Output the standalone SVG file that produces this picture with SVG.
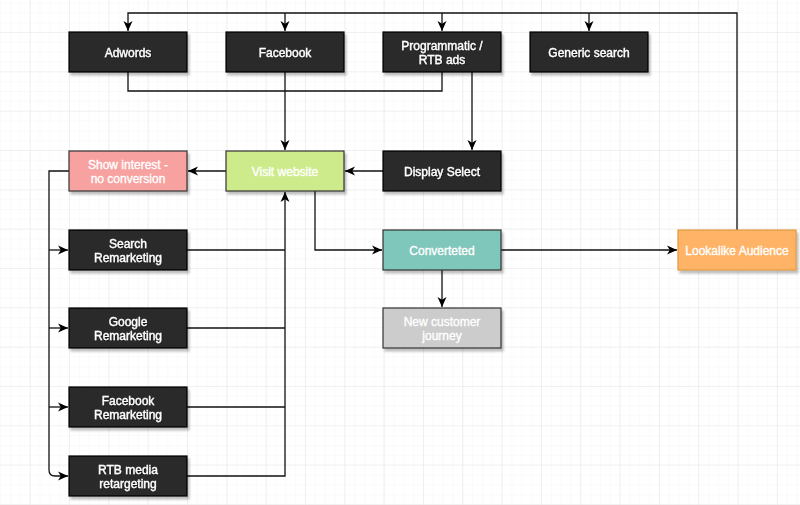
<svg xmlns="http://www.w3.org/2000/svg" width="800" height="505" viewBox="0 0 800 505">
<defs>
<pattern id="minor" patternUnits="userSpaceOnUse" x="29.67" y="32" width="9.833" height="9.833">
<path d="M0,0 H9.833 M0,0 V9.833" fill="none" stroke="#f6f6f6" stroke-width="1"/>
</pattern>
<pattern id="major" patternUnits="userSpaceOnUse" x="29.67" y="32" width="39.33" height="39.33">
<path d="M0,0 H39.33 M0,0 V39.33" fill="none" stroke="#e8e8e8" stroke-width="1.2"/>
</pattern>
<filter id="sh" x="-10%" y="-10%" width="130%" height="140%">
<feDropShadow dx="2" dy="3" stdDeviation="1" flood-color="#000" flood-opacity="0.25"/>
</filter>
<filter id="ts" x="-10%" y="-30%" width="120%" height="160%">
<feDropShadow dx="0.6" dy="0.8" stdDeviation="0.4" flood-color="#000" flood-opacity="0.45"/>
</filter>
<marker id="arr" markerUnits="userSpaceOnUse" markerWidth="11" markerHeight="11" viewBox="0 0 11 11" refX="10" refY="5.5" orient="auto">
<path d="M0,1 L10,5.5 L0,10 L2.8,5.5 z" fill="#000"/>
</marker>
</defs>
<style>
.n rect{stroke-width:1.2}
.dark rect{fill:#2b2b2b;stroke:#000}
.t{font-family:"Liberation Sans",Arial,sans-serif;font-size:12px;fill:#ffffff;stroke:#ffffff;stroke-width:0.35;text-anchor:middle}
.c path{fill:none;stroke:#111;stroke-width:1.3}
</style>
<rect width="800" height="505" fill="#ffffff"/>
<rect width="800" height="505" fill="url(#minor)"/>
<rect width="800" height="505" fill="url(#major)"/>

<g id="connectors" class="c">
<path d="M737,230 V13 H128 V31" marker-end="url(#arr)"/>
<path d="M285,13 V31" marker-end="url(#arr)"/>
<path d="M442,13 V31" marker-end="url(#arr)"/>
<path d="M589,13 V31" marker-end="url(#arr)"/>
<path d="M128,72 V91 H442 V72"/>
<path d="M285,72 V150" marker-end="url(#arr)"/>
<path d="M472,72 V150" marker-end="url(#arr)"/>
<path d="M383,171 H345" marker-end="url(#arr)"/>
<path d="M226,171 H188" marker-end="url(#arr)"/>
<path d="M69,171 H49 V470 Q49,476 55,476 H68" marker-end="url(#arr)"/>
<path d="M49,250 H68" marker-end="url(#arr)"/>
<path d="M49,328 H68" marker-end="url(#arr)"/>
<path d="M49,407 H68" marker-end="url(#arr)"/>
<path d="M187,250 H285"/>
<path d="M187,328 H285"/>
<path d="M187,407 H285"/>
<path d="M187,476 H285 V192" marker-end="url(#arr)"/>
<path d="M315,191 V250 H382" marker-end="url(#arr)"/>
<path d="M501,250 H677" marker-end="url(#arr)"/>
<path d="M442,270 V307" marker-end="url(#arr)"/>
</g>

<g id="adwords" class="n dark"><rect x="69" y="32" width="118" height="40" filter="url(#sh)"/><text class="t" filter="url(#ts)" x="128" y="56.5">Adwords</text></g>
<g id="facebook" class="n dark"><rect x="226" y="32" width="118" height="40" filter="url(#sh)"/><text class="t" filter="url(#ts)" x="285" y="56.5">Facebook</text></g>
<g id="programmatic" class="n dark"><rect x="383" y="32" width="118" height="40" filter="url(#sh)"/><text class="t" filter="url(#ts)" x="442" y="50">Programmatic /</text><text class="t" filter="url(#ts)" x="442" y="64">RTB ads</text></g>
<g id="generic" class="n dark"><rect x="530" y="32" width="118" height="40" filter="url(#sh)"/><text class="t" filter="url(#ts)" x="589" y="56.5">Generic search</text></g>

<g id="show-interest" class="n"><rect x="69" y="151" width="118" height="40" fill="#F7A1A0" stroke="#333" filter="url(#sh)"/><text class="t" x="128" y="168.5">Show interest -</text><text class="t" x="128" y="182.5">no conversion</text></g>
<g id="visit" class="n"><rect x="226" y="151" width="118" height="40" fill="#CDEB8B" stroke="#333" filter="url(#sh)"/><text class="t" x="285" y="175.5">Visit website</text></g>
<g id="display" class="n dark"><rect x="383" y="151" width="118" height="40" filter="url(#sh)"/><text class="t" filter="url(#ts)" x="442" y="175.5">Display Select</text></g>

<g id="converted" class="n"><rect x="383" y="230" width="118" height="40" fill="#7FC6BB" stroke="#333" filter="url(#sh)"/><text class="t" x="442" y="254.5">Converteted</text></g>
<g id="lookalike" class="n"><rect x="678" y="230" width="118" height="40" fill="#FFB366" stroke="#E09A40" filter="url(#sh)"/><text class="t" x="737" y="254.5">Lookalike Audience</text></g>
<g id="new-customer" class="n"><rect x="383" y="308" width="118" height="40" fill="#CCCCCC" stroke="#333" filter="url(#sh)"/><text class="t" x="442" y="325.5">New customer</text><text class="t" x="442" y="339.5">journey</text></g>

<g id="search-rm" class="n dark"><rect x="69" y="230" width="118" height="40" filter="url(#sh)"/><text class="t" filter="url(#ts)" x="128" y="247.5">Search</text><text class="t" filter="url(#ts)" x="128" y="261.5">Remarketing</text></g>
<g id="google-rm" class="n dark"><rect x="69" y="308" width="118" height="40" filter="url(#sh)"/><text class="t" filter="url(#ts)" x="128" y="325.5">Google</text><text class="t" filter="url(#ts)" x="128" y="339.5">Remarketing</text></g>
<g id="facebook-rm" class="n dark"><rect x="69" y="387" width="118" height="40" filter="url(#sh)"/><text class="t" filter="url(#ts)" x="128" y="404.5">Facebook</text><text class="t" filter="url(#ts)" x="128" y="418.5">Remarketing</text></g>
<g id="rtb-rt" class="n dark"><rect x="69" y="456" width="118" height="40" filter="url(#sh)"/><text class="t" filter="url(#ts)" x="128" y="473.5">RTB media</text><text class="t" filter="url(#ts)" x="128" y="487.5">retargeting</text></g>
</svg>
